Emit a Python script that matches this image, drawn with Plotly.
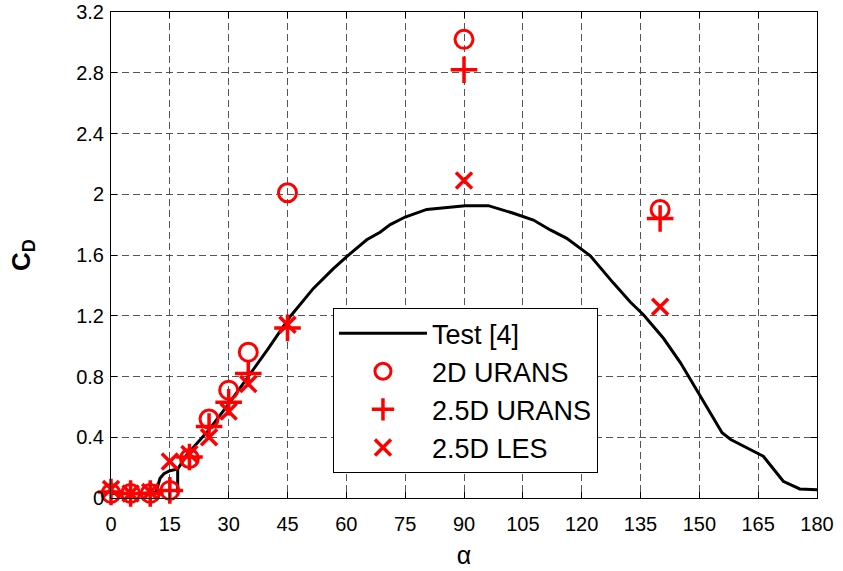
import plotly.graph_objects as go

# Experimental curve (Test [4])
alpha_test = [0, 4, 8, 11.5, 12.5, 13.5, 15, 17, 17, 17, 19.2, 25, 30, 35, 40, 45.7,
              51.6, 56.7, 60.1, 65.2, 68.6, 71.2, 75, 80.5, 90.3, 96.2, 102.6, 107.7,
              112, 116.2, 122.2, 128.1, 132.4, 135.8, 140.9, 145.2, 150.3, 155.8, 158,
              163.7, 166.3, 171.4, 175.6, 180]
cd_test = [0.03, 0.03, 0.03, 0.04, 0.13, 0.16, 0.18, 0.19, 0.035, 0.19, 0.28, 0.45,
           0.62, 0.80, 0.98, 1.195, 1.38, 1.51, 1.59, 1.70, 1.75, 1.80, 1.85, 1.90,
           1.925, 1.925, 1.875, 1.83, 1.765, 1.71, 1.595, 1.415, 1.29, 1.205, 1.05,
           0.89, 0.67, 0.43, 0.385, 0.31, 0.275, 0.11, 0.06, 0.055]

# Simulations
alpha_sim = [0, 5, 10, 15, 20, 25, 30, 35, 45, 90, 140]
cd_2d_urans = [0.03, 0.03, 0.03, 0.05, 0.26, 0.52, 0.71, 0.96, 2.01, 3.02, 1.90]
cd_25d_urans = [0.04, 0.03, 0.03, 0.05, 0.27, 0.47, 0.63, 0.82, 1.12, 2.82, 1.84]
cd_25d_les = [0.06, 0.03, 0.04, 0.24, 0.29, 0.40, 0.57, 0.75, 1.14, 2.09, 1.26]

x_ticks = list(range(0, 181, 15))
y_ticks = [0, 0.4, 0.8, 1.2, 1.6, 2, 2.4, 2.8, 3.2]
y_ticklabels = ["0", "0.4", "0.8", "1.2", "1.6", "2", "2.4", "2.8", "3.2"]

RED = "#ff0000"
FONT = "Liberation Sans, Arial, Helvetica, sans-serif"

fig = go.Figure()
fig.add_trace(go.Scatter(x=alpha_test, y=cd_test, mode="lines", name="Test [4]",
                         line=dict(color="black", width=3)))
fig.add_trace(go.Scatter(x=alpha_sim, y=cd_2d_urans, mode="markers", name="2D URANS",
                         cliponaxis=False,
                         marker=dict(symbol="circle-open", size=18, color=RED,
                                     line=dict(color=RED, width=3))))
fig.add_trace(go.Scatter(x=alpha_sim, y=cd_25d_urans, mode="markers", name="2.5D URANS",
                         cliponaxis=False,
                         marker=dict(symbol="cross-thin-open", size=19, color=RED,
                                     line=dict(color=RED, width=3.5))))
fig.add_trace(go.Scatter(x=alpha_sim, y=cd_25d_les, mode="markers", name="2.5D LES",
                         cliponaxis=False,
                         marker=dict(symbol="x-thin-open", size=16, color=RED,
                                     line=dict(color=RED, width=3.5))))

axis_common = dict(
    showline=True, linecolor="black", linewidth=1, mirror="ticks",
    ticks="inside", ticklen=6, tickcolor="black", tickwidth=1,
    showgrid=True, gridcolor="#555555", gridwidth=1, griddash="7px,4px",
    zeroline=False, automargin=False, ticklabeloverflow="allow",
    tickfont=dict(family=FONT, size=20, color="black"),
)

fig.update_xaxes(range=[0, 180], tickvals=x_ticks, ticklabelstandoff=8,
                 title=dict(text="α", font=dict(family=FONT, size=25, color="black"),
                            standoff=12),
                 **axis_common)
fig.update_yaxes(range=[0, 3.2], tickvals=y_ticks, ticktext=y_ticklabels,
                 ticklabelstandoff=2,
                 title=dict(text="<b>C<sub style=\"font-size:85%\">D</sub></b>",
                            font=dict(family=FONT, size=26, color="black"), standoff=38),
                 **axis_common)

fig.update_layout(
    width=843, height=571,
    margin=dict(l=111, r=26, t=12, b=73),
    paper_bgcolor="white", plot_bgcolor="white",
    font=dict(family=FONT, color="black"),
    legend=dict(x=0.3144, y=0.3907, xanchor="left", yanchor="top",
                bgcolor="white", bordercolor="black", borderwidth=1,
                font=dict(family=FONT, size=27, color="black"),
                itemwidth=88, tracegroupgap=0),
)

# remove the default 8px page margin so the figure fills the window exactly
fig.write_html("out.html", config={"displayModeBar": False},
               post_script="document.body.style.margin='0';")
